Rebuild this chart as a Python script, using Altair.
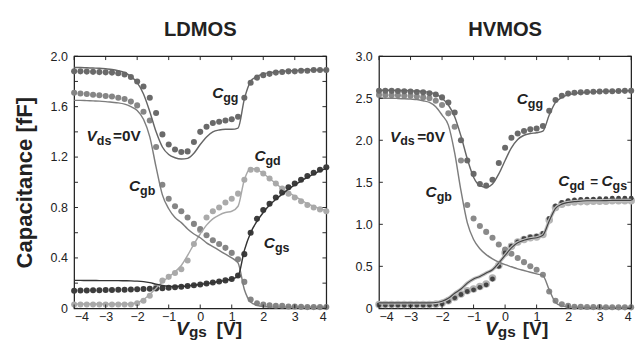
import altair as alt
import pandas as pd

FONT = "Liberation Sans"

# ---------------- data ----------------
VGS = [-4.0, -3.8, -3.6, -3.4, -3.2, -3.0, -2.8, -2.6, -2.4, -2.2, -2.0,
       -1.8, -1.6, -1.4, -1.2, -1.0, -0.8, -0.6, -0.4, -0.2, 0.0,
       0.2, 0.4, 0.6, 0.8, 1.0, 1.2, 1.4, 1.6, 1.8, 2.0,
       2.2, 2.4, 2.6, 2.8, 3.0, 3.2, 3.4, 3.6, 3.8, 4.0]
XTICKS = [-4, -3, -2, -1, 0, 1, 2, 3, 4]

# LDMOS (measured = dots, model = lines)
ld_cgg_dots = [1.88, 1.88, 1.878, 1.876, 1.874, 1.872, 1.87, 1.865, 1.855, 1.835, 1.80,
               1.76, 1.67, 1.55, 1.38, 1.30, 1.26, 1.24, 1.245, 1.32, 1.40,
               1.44, 1.47, 1.48, 1.49, 1.50, 1.52, 1.67, 1.79, 1.83, 1.85,
               1.86, 1.87, 1.875, 1.88, 1.88, 1.885, 1.885, 1.89, 1.89, 1.89]
ld_cgg_line = [1.91, 1.91, 1.908, 1.906, 1.904, 1.90, 1.895, 1.885, 1.87, 1.84, 1.79,
               1.70, 1.56, 1.40, 1.28, 1.22, 1.195, 1.185, 1.19, 1.23, 1.30,
               1.36, 1.40, 1.415, 1.42, 1.42, 1.43, 1.66, 1.80, 1.84, 1.86,
               1.87, 1.875, 1.88, 1.885, 1.885, 1.89, 1.89, 1.89, 1.89, 1.89]
ld_cgb_dots = [1.71, 1.705, 1.70, 1.695, 1.69, 1.685, 1.68, 1.67, 1.66, 1.64, 1.61,
               1.56, 1.49, 1.28, 0.98, 0.87, 0.81, 0.77, 0.72, 0.67, 0.63,
               0.58, 0.54, 0.51, 0.48, 0.44, 0.39, 0.21, 0.07, 0.04, 0.03,
               0.025, 0.02, 0.02, 0.015, 0.015, 0.012, 0.01, 0.01, 0.01, 0.01]
ld_cgb_line = [1.65, 1.65, 1.648, 1.646, 1.644, 1.64, 1.635, 1.63, 1.62, 1.60, 1.57,
               1.50, 1.36, 1.12, 0.90, 0.79, 0.72, 0.68, 0.63, 0.59, 0.56,
               0.52, 0.49, 0.46, 0.43, 0.40, 0.36, 0.15, 0.05, 0.025, 0.015,
               0.012, 0.01, 0.01, 0.01, 0.01, 0.01, 0.01, 0.01, 0.01, 0.01]
ld_cgd_dots = [0.03, 0.03, 0.03, 0.03, 0.03, 0.03, 0.03, 0.03, 0.03, 0.03, 0.04,
               0.06, 0.10, 0.17, 0.22, 0.25, 0.28, 0.31, 0.38, 0.51, 0.62,
               0.72, 0.77, 0.80, 0.84, 0.87, 0.91, 1.02, 1.10, 1.10, 1.07,
               1.03, 0.99, 0.95, 0.91, 0.88, 0.85, 0.82, 0.80, 0.785, 0.77]
ld_cgd_line = [0.035, 0.035, 0.035, 0.035, 0.035, 0.035, 0.035, 0.035, 0.035, 0.037, 0.045,
               0.07, 0.11, 0.16, 0.21, 0.25, 0.29, 0.34, 0.42, 0.51, 0.59,
               0.66, 0.71, 0.74, 0.76, 0.77, 0.81, 1.02, 1.11, 1.10, 1.07,
               1.03, 0.99, 0.95, 0.92, 0.89, 0.86, 0.83, 0.81, 0.79, 0.775]
ld_cgs_dots = [0.14, 0.141, 0.142, 0.143, 0.144, 0.145, 0.146, 0.147, 0.148, 0.15, 0.152,
               0.154, 0.156, 0.158, 0.16, 0.163, 0.167, 0.172, 0.177, 0.183, 0.19,
               0.197, 0.205, 0.213, 0.222, 0.233, 0.26, 0.43, 0.60, 0.71, 0.78,
               0.83, 0.88, 0.92, 0.96, 0.99, 1.02, 1.05, 1.075, 1.10, 1.12]
ld_cgs_line = [0.222, 0.222, 0.221, 0.221, 0.22, 0.22, 0.22, 0.22, 0.219, 0.218, 0.216,
               0.212, 0.204, 0.192, 0.182, 0.176, 0.174, 0.175, 0.178, 0.183, 0.19,
               0.197, 0.205, 0.213, 0.222, 0.233, 0.255, 0.46, 0.60, 0.69, 0.76,
               0.82, 0.865, 0.905, 0.945, 0.98, 1.01, 1.04, 1.065, 1.09, 1.11]

# HVMOS
hv_cgg_dots = [2.59, 2.59, 2.588, 2.586, 2.584, 2.58, 2.575, 2.57, 2.56, 2.545, 2.51,
               2.45, 2.33, 2.00, 1.76, 1.60, 1.48, 1.46, 1.53, 1.73, 1.91,
               2.03, 2.08, 2.11, 2.13, 2.14, 2.17, 2.35, 2.48, 2.53, 2.555,
               2.565, 2.57, 2.575, 2.578, 2.58, 2.582, 2.584, 2.586, 2.588, 2.59]
hv_cgg_line = [2.595, 2.595, 2.594, 2.593, 2.592, 2.59, 2.587, 2.582, 2.57, 2.55, 2.50,
               2.42, 2.28, 2.05, 1.78, 1.56, 1.46, 1.44, 1.48, 1.60, 1.76,
               1.91, 2.01, 2.06, 2.08, 2.09, 2.11, 2.30, 2.45, 2.51, 2.54,
               2.555, 2.565, 2.57, 2.575, 2.58, 2.582, 2.584, 2.586, 2.588, 2.59]
hv_cgb_dots = [2.54, 2.54, 2.535, 2.535, 2.53, 2.53, 2.52, 2.51, 2.50, 2.47, 2.42,
               2.32, 2.16, 1.76, 1.23, 1.07, 0.98, 0.91, 0.84, 0.76, 0.70,
               0.65, 0.60, 0.55, 0.50, 0.46, 0.40, 0.20, 0.09, 0.05, 0.03,
               0.02, 0.018, 0.016, 0.015, 0.015, 0.014, 0.013, 0.012, 0.012, 0.012]
hv_cgb_line = [2.50, 2.50, 2.50, 2.498, 2.495, 2.49, 2.485, 2.47, 2.45, 2.40, 2.30,
               2.18, 1.85, 1.40, 1.02, 0.82, 0.71, 0.64, 0.59, 0.55, 0.52,
               0.495, 0.47, 0.45, 0.43, 0.41, 0.39, 0.22, 0.07, 0.03, 0.018,
               0.014, 0.012, 0.01, 0.01, 0.01, 0.01, 0.01, 0.01, 0.01, 0.01]
hv_cgd_dots = [0.045, 0.045, 0.045, 0.045, 0.045, 0.045, 0.045, 0.045, 0.045, 0.05, 0.06,
               0.09, 0.13, 0.17, 0.21, 0.23, 0.26, 0.29, 0.36, 0.51, 0.66,
               0.74, 0.79, 0.82, 0.84, 0.85, 0.88, 1.05, 1.20, 1.24, 1.26,
               1.265, 1.27, 1.27, 1.275, 1.275, 1.275, 1.28, 1.28, 1.28, 1.28]
hv_cgs_dots = [0.04, 0.04, 0.04, 0.04, 0.04, 0.04, 0.04, 0.04, 0.04, 0.045, 0.055,
               0.085, 0.125, 0.165, 0.20, 0.22, 0.25, 0.28, 0.35, 0.50, 0.66,
               0.74, 0.79, 0.83, 0.85, 0.86, 0.89, 1.07, 1.22, 1.26, 1.28,
               1.29, 1.295, 1.30, 1.30, 1.305, 1.305, 1.31, 1.31, 1.31, 1.31]
hv_cgd_line = [0.065, 0.065, 0.065, 0.065, 0.065, 0.065, 0.065, 0.065, 0.066, 0.07, 0.085,
               0.12, 0.18, 0.23, 0.30, 0.35, 0.38, 0.42, 0.46, 0.54, 0.63,
               0.72, 0.78, 0.81, 0.83, 0.84, 0.87, 1.04, 1.19, 1.24, 1.26,
               1.27, 1.275, 1.28, 1.28, 1.28, 1.282, 1.284, 1.285, 1.285, 1.285]
hv_cgs_line = [0.065, 0.065, 0.065, 0.065, 0.065, 0.065, 0.065, 0.065, 0.066, 0.07, 0.085,
               0.12, 0.18, 0.23, 0.30, 0.35, 0.38, 0.42, 0.46, 0.54, 0.63,
               0.72, 0.78, 0.81, 0.83, 0.84, 0.87, 1.04, 1.19, 1.24, 1.26,
               1.27, 1.275, 1.28, 1.28, 1.28, 1.282, 1.284, 1.285, 1.285, 1.285]

LD_YTICKS = [0, 0.2, 0.4, 0.6, 0.8, 1.0, 1.2, 1.4, 1.6, 1.8, 2.0]
LD_YLABELS = [0, 0.4, 0.8, 1.2, 1.6, 2.0]
HV_YTICKS = [0, 0.5, 1.0, 1.5, 2.0, 2.5, 3.0]

# annotations: (text, Vgs anchor, C anchor)
ld_main = [("C", 0.73, 1.67), ("V", -3.28, 1.33), ("C", -1.91, 0.93), ("C", 2.07, 1.17), ("C", 2.37, 0.48)]
ld_sub = [("gg", 0.73, 1.67), ("ds", -3.28, 1.33), ("gb", -1.91, 0.93), ("gd", 2.07, 1.17), ("gs", 2.37, 0.48)]
ld_plain = [("=0V", -2.80, 1.33)]
hv_main = [("C", 0.72, 2.43), ("V", -3.33, 1.985), ("C", -2.17, 1.32), ("C", 2.04, 1.455), ("C", 3.41, 1.455)]
hv_sub = [("gg", 0.72, 2.43), ("ds", -3.33, 1.985), ("gb", -2.17, 1.32), ("gd", 2.04, 1.455), ("gs", 3.41, 1.455)]
hv_plain = [("=0V", -2.82, 1.985)]
hv_eq = [("=", 2.70, 1.455)]

W, H = 263, 263
TXT = "#222222"


def sdf(vals):
    return pd.DataFrame({"Vgs": VGS, "C": vals})


def adf(items):
    return pd.DataFrame({"t": [i[0] for i in items], "Vgs": [i[1] for i in items], "C": [i[2] for i in items]})


def panel(title, ymax, ylabels, yticks, dots, lines, main, sub, plain, eq, xt_v, xt_b, ytitle):
    xs = alt.Scale(domain=[-4, 4], nice=False, zero=False)
    ys = alt.Scale(domain=[0, ymax], nice=False)
    xax = alt.Axis(values=XTICKS, format="d", title=None, ticks=False, domain=False,
                   grid=False, labelPadding=3, labelOverlap=False, tickCount=9)
    yax_kw = dict(values=ylabels, ticks=False, domain=False, grid=False, labelPadding=7,
                  labelOverlap=False,
                  labelExpr="datum.value == 0 ? '0' : format(datum.value, '.1f')")
    if ytitle:
        yax = alt.Axis(title=ytitle, titleFont=FONT, titleFontSize=23, titleFontWeight="bold",
                       titleColor=TXT, titlePadding=14, **yax_kw)
    else:
        yax = alt.Axis(title=None, **yax_kw)
    X = lambda: alt.X("Vgs:Q", scale=xs, axis=xax)
    Y = lambda: alt.Y("C:Q", scale=ys, axis=yax)

    layers = []
    for vals, color, size in dots:
        layers.append(alt.Chart(sdf(vals)).mark_circle(color=color, size=size, opacity=1)
                      .encode(x=X(), y=Y()))
    for vals, color, width in lines:
        layers.append(alt.Chart(sdf(vals)).mark_line(color=color, strokeWidth=width,
                                                     interpolate="monotone")
                      .encode(x=X(), y=Y()))
    layers.append(alt.Chart(adf(main)).mark_text(font=FONT, fontSize=16, fontWeight="bold",
                                                 fontStyle="italic", align="right",
                                                 baseline="alphabetic", color=TXT)
                  .encode(x=X(), y=Y(), text="t:N"))
    layers.append(alt.Chart(adf(sub)).mark_text(font=FONT, fontSize=13, fontWeight="bold",
                                                align="left", baseline="alphabetic", dy=4, color=TXT)
                  .encode(x=X(), y=Y(), text="t:N"))
    layers.append(alt.Chart(adf(plain)).mark_text(font=FONT, fontSize=16, fontWeight="bold",
                                                  align="left", baseline="alphabetic", dx=1, color=TXT)
                  .encode(x=X(), y=Y(), text="t:N"))
    if eq:
        layers.append(alt.Chart(adf(eq)).mark_text(font=FONT, fontSize=14, fontWeight="bold",
                                                   align="left", baseline="alphabetic", color=TXT)
                      .encode(x=X(), y=Y(), text="t:N"))
    # x-axis title V_gs [V]
    xt = pd.DataFrame({"t": ["V"], "Vgs": [xt_v]})
    layers.append(alt.Chart(xt).mark_text(font=FONT, fontSize=20, fontWeight="bold", fontStyle="italic",
                                          align="right", baseline="alphabetic", color=TXT)
                  .encode(x=X(), y=alt.value(H + 28), text="t:N"))
    xt2 = pd.DataFrame({"t": ["gs"], "Vgs": [xt_v]})
    layers.append(alt.Chart(xt2).mark_text(font=FONT, fontSize=16, fontWeight="bold",
                                           align="left", baseline="alphabetic", color=TXT)
                  .encode(x=X(), y=alt.value(H + 30), text="t:N"))
    xt3 = pd.DataFrame({"t": ["[V]"], "Vgs": [xt_b]})
    layers.append(alt.Chart(xt3).mark_text(font=FONT, fontSize=20, fontWeight="bold",
                                           align="left", baseline="alphabetic", color=TXT)
                  .encode(x=X(), y=alt.value(H + 28), text="t:N"))
    # inward ticks
    ydf = pd.DataFrame({"C": yticks})
    xdf = pd.DataFrame({"Vgs": XTICKS})
    tk = dict(color="#222222", strokeWidth=1)
    layers.append(alt.Chart(ydf).mark_rule(**tk).encode(y=Y(), x=alt.value(0), x2=alt.value(4)))
    layers.append(alt.Chart(ydf).mark_rule(**tk).encode(y=Y(), x=alt.value(W - 4), x2=alt.value(W)))
    layers.append(alt.Chart(xdf).mark_rule(**tk).encode(x=X(), y=alt.value(0), y2=alt.value(4)))
    layers.append(alt.Chart(xdf).mark_rule(**tk).encode(x=X(), y=alt.value(H - 4), y2=alt.value(H)))

    return alt.layer(*layers).properties(
        width=W, height=H,
        title=alt.TitleParams(title, font=FONT, fontSize=21, fontWeight="bold", color=TXT,
                              anchor="middle", offset=11))


left = panel(
    "LDMOS", 2.0, LD_YLABELS, LD_YTICKS,
    dots=[(ld_cgd_dots, "#aaaaaa", 40), (ld_cgb_dots, "#858585", 40),
          (ld_cgg_dots, "#6a6a6a", 40), (ld_cgs_dots, "#3d3d3d", 40)],
    lines=[(ld_cgd_line, "#a8a8a8", 1.5), (ld_cgb_line, "#7d7d7d", 1.5),
           (ld_cgg_line, "#666666", 1.5), (ld_cgs_line, "#333333", 1.5)],
    main=ld_main, sub=ld_sub, plain=ld_plain, eq=None, xt_v=-0.36, xt_b=0.52,
    ytitle="Capacitance [fF]")

right = panel(
    "HVMOS", 3.0, HV_YTICKS, HV_YTICKS,
    dots=[(hv_cgd_dots, "#b3b3b3", 62), (hv_cgb_dots, "#8a8a8a", 40),
          (hv_cgg_dots, "#6a6a6a", 40), (hv_cgs_dots, "#444444", 26)],
    lines=[(hv_cgd_line, "#bdbdbd", 3.5), (hv_cgs_line, "#444444", 1.2),
           (hv_cgb_line, "#7d7d7d", 1.5), (hv_cgg_line, "#666666", 1.5)],
    main=hv_main, sub=hv_sub, plain=hv_plain, eq=hv_eq, xt_v=-0.23, xt_b=0.56,
    ytitle=None)

chart = alt.hconcat(left, right, spacing=25).properties(
    padding={"left": 6, "top": 4, "right": -4, "bottom": -1}
).configure_view(stroke="#222222", strokeWidth=1.3).configure_axis(
    labelFont=FONT, labelFontSize=13, labelColor=TXT
)

chart.save("out.html", embed_options={"renderer": "svg", "actions": False})
